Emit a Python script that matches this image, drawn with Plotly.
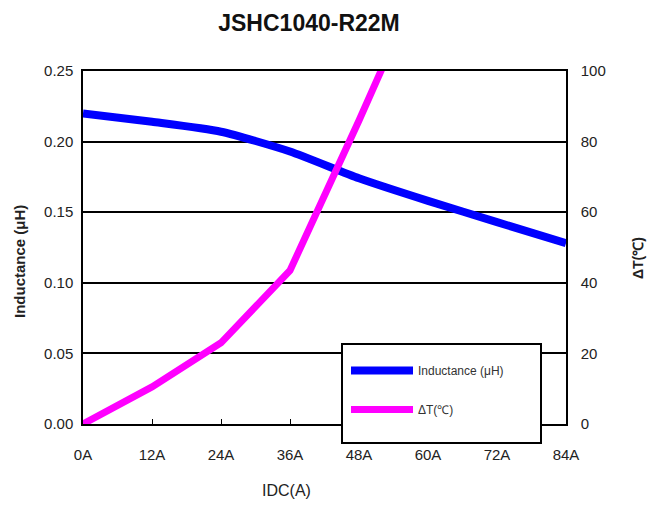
import plotly.graph_objects as go

# ---- data ----
current_a = [0, 12, 24, 36, 48, 60, 72, 84]
inductance_uh = [0.220, 0.214, 0.207, 0.193, 0.174, 0.158, 0.143, 0.128]
temp_current_a = [0, 12, 24, 36, 48, 60]
delta_t_c = [0, 10.5, 23, 43.5, 86, 130]
x_tick_vals = [0, 12, 24, 36, 48, 60, 72, 84]
x_tick_text = ["0A", "12A", "24A", "36A", "48A", "60A", "72A", "84A"]
y_tick_vals = [0, 0.05, 0.10, 0.15, 0.20, 0.25]
y2_tick_vals = [0, 20, 40, 60, 80, 100]

FONT = "Liberation Sans, Arial, sans-serif"

# the page body has an 8px margin: figure is shrunk and shifted accordingly
OFF = 8
W, H = 656 - 2 * OFF, 509 - 2 * OFF
# plot area in window pixel coordinates
L, R, T, B = 83, 566, 71, 424

def px_x(p):
    return (p - L) / (R - L)

def px_y(p):
    return (B - p) / (B - T)

fig = go.Figure()
fig.add_trace(go.Scatter(
    x=current_a, y=inductance_uh, mode="lines", name="Inductance (μH)",
    line=dict(color="#0000FF", width=8, shape="spline", smoothing=0.6),
    yaxis="y", legendgroup="a",
))
fig.add_trace(go.Scatter(
    x=temp_current_a, y=delta_t_c, mode="lines", name="ΔT(℃)",
    line=dict(color="#FF00FF", width=7),
    yaxis="y2", legendgroup="b",
))

# legend box
fig.add_shape(type="rect", xref="paper", yref="paper",
              x0=px_x(342), x1=px_x(541), y0=px_y(443), y1=px_y(344),
              line=dict(color="black", width=2), fillcolor="white", layer="above")

# axis titles
fig.add_annotation(text="<b>Inductance (μH)</b>", xref="paper", yref="paper",
                   x=px_x(19), y=px_y(262), showarrow=False, textangle=-90,
                   xanchor="center", yanchor="middle",
                   font=dict(family=FONT, size=15, color="#222"))
fig.add_annotation(text="<b>ΔT(℃)</b>", xref="paper", yref="paper",
                   x=px_x(638), y=px_y(258), showarrow=False, textangle=-90,
                   xanchor="center", yanchor="middle",
                   font=dict(family=FONT, size=14, color="#222"))
fig.add_annotation(text="IDC(A)", xref="paper", yref="paper",
                   x=px_x(286), y=px_y(491), showarrow=False,
                   xanchor="center", yanchor="middle",
                   font=dict(family=FONT, size=16, color="#222"))

fig.update_layout(
    width=W, height=H,
    margin=dict(l=L - OFF, r=(656 - OFF) - R, t=T - OFF, b=(509 - OFF) - B, autoexpand=False),
    paper_bgcolor="white", plot_bgcolor="white",
    font=dict(family=FONT, color="#222", size=14),
    title=dict(text="<b>JSHC1040-R22M</b>", x=(309 - OFF) / W, xanchor="center",
               y=1 - (23 - OFF) / H, yanchor="middle",
               font=dict(family=FONT, size=23, color="#111")),
    showlegend=True,
    legend=dict(x=px_x(346), y=px_y(356), xanchor="left", yanchor="top",
                bgcolor="rgba(0,0,0,0)", borderwidth=0, itemwidth=62,
                font=dict(family=FONT, size=12, color="#333"),
                traceorder="grouped", tracegroupgap=20),
    xaxis=dict(range=[0, 84], tickvals=x_tick_vals, ticktext=x_tick_text,
               showgrid=False, zeroline=False, showline=True, linecolor="black",
               linewidth=1.5, mirror=True, ticks="inside", ticklen=5, tickcolor="black",
               tickfont=dict(size=15), ticklabelstandoff=16, automargin=False),
    yaxis=dict(range=[0, 0.25], tickvals=y_tick_vals, tickformat=".2f",
               showgrid=True, gridcolor="black", gridwidth=1.5, zeroline=False,
               showline=True, linecolor="black", linewidth=1.5,
               ticks="", tickfont=dict(size=15), ticklabelstandoff=5, automargin=False),
    yaxis2=dict(range=[0, 100], tickvals=y2_tick_vals, overlaying="y", side="right",
                showgrid=False, zeroline=False, showline=True, linecolor="black",
                linewidth=1.5, ticks="", tickfont=dict(size=15), ticklabelstandoff=10,
                automargin=False),
)

fig.write_html("out.html")
